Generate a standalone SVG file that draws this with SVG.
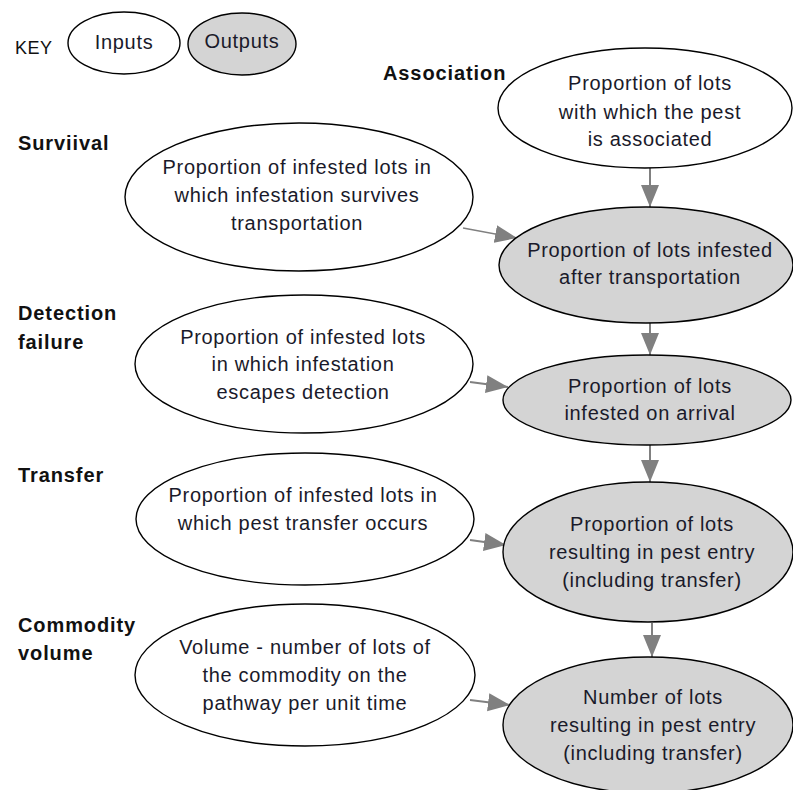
<svg xmlns="http://www.w3.org/2000/svg" width="793" height="790" viewBox="0 0 793 790">
<defs>
<marker id="ah" markerUnits="userSpaceOnUse" markerWidth="24" markerHeight="20" refX="22" refY="10" orient="auto">
<path d="M0,1 L22,10 L0,19 z" fill="#808080"/>
</marker>
<style>
.in{fill:#ffffff;stroke:#000;stroke-width:1.4}
.out{fill:#d4d4d4;stroke:#000;stroke-width:1.4}
.t{font-family:"Liberation Sans",Arial,sans-serif;font-size:20px;fill:#1a1a2a;text-anchor:middle;letter-spacing:0.7px}
.lb{font-family:"Liberation Sans",Arial,sans-serif;font-size:20px;font-weight:bold;fill:#111;letter-spacing:0.9px}
.c{stroke:#808080;stroke-width:2;fill:none;marker-end:url(#ah)}
</style>
</defs>
<rect width="793" height="790" fill="#fff"/>
<g id="key">
<text x="15" y="54" class="lb" style="font-weight:normal;font-size:18px;letter-spacing:0.5px">KEY</text>
<ellipse cx="124" cy="43" rx="56" ry="31" class="in"/>
<text x="124" y="49" class="t">Inputs</text>
<ellipse cx="242" cy="44" rx="54" ry="31" class="out"/>
<text x="242" y="48" class="t">Outputs</text>
</g>
<g id="labels">
<text x="383" y="80" class="lb">Association</text>
<text x="18" y="150" class="lb">Surviival</text>
<text x="18" y="320" class="lb">Detection</text>
<text x="18" y="349" class="lb">failure</text>
<text x="18" y="482" class="lb">Transfer</text>
<text x="18" y="632" class="lb">Commodity</text>
<text x="18" y="660" class="lb">volume</text>
</g>
<g id="connectors">
<line x1="650" y1="168" x2="650" y2="207" class="c"/>
<line x1="463" y1="228" x2="517" y2="238" class="c" style="stroke-width:1.5"/>
<line x1="650" y1="323" x2="650" y2="355" class="c"/>
<line x1="470" y1="382" x2="508" y2="387" class="c"/>
<line x1="650" y1="445" x2="650" y2="482" class="c"/>
<line x1="470" y1="540" x2="506" y2="545" class="c"/>
<line x1="652" y1="623" x2="652" y2="657" class="c"/>
<line x1="470" y1="700" x2="510" y2="705" class="c"/>
</g>
<g id="association">
<ellipse cx="645" cy="108" rx="147" ry="60" class="in"/>
<text class="t"><tspan x="650" y="90">Proportion of lots</tspan><tspan x="650" y="119">with which the pest</tspan><tspan x="650" y="146">is associated</tspan></text>
</g>
<g id="survival">
<ellipse cx="299" cy="197" rx="174" ry="74" class="in"/>
<text class="t"><tspan x="297" y="174">Proportion of infested lots in</tspan><tspan x="297" y="202">which infestation survives</tspan><tspan x="297" y="230">transportation</tspan></text>
</g>
<g id="infested-after-transport">
<ellipse cx="646" cy="265" rx="147" ry="58" class="out"/>
<text class="t"><tspan x="650" y="257">Proportion of lots infested</tspan><tspan x="650" y="284">after transportation</tspan></text>
</g>
<g id="detection">
<ellipse cx="304" cy="364" rx="169" ry="69" class="in"/>
<text class="t"><tspan x="303" y="344">Proportion of infested lots</tspan><tspan x="303" y="371">in which infestation</tspan><tspan x="303" y="399">escapes detection</tspan></text>
</g>
<g id="infested-on-arrival">
<ellipse cx="647" cy="400" rx="144" ry="45" class="out"/>
<text class="t"><tspan x="650" y="393">Proportion of lots</tspan><tspan x="650" y="420">infested on arrival</tspan></text>
</g>
<g id="transfer">
<ellipse cx="305" cy="519" rx="169" ry="66" class="in"/>
<text class="t"><tspan x="303" y="502">Proportion of infested lots in</tspan><tspan x="303" y="530">which pest transfer occurs</tspan></text>
</g>
<g id="pest-entry">
<ellipse cx="648" cy="552" rx="145" ry="70" class="out"/>
<text class="t"><tspan x="652" y="531">Proportion of lots</tspan><tspan x="652" y="559">resulting in pest entry</tspan><tspan x="652" y="587">(including transfer)</tspan></text>
</g>
<g id="commodity">
<ellipse cx="305" cy="675" rx="170" ry="71" class="in"/>
<text class="t"><tspan x="305" y="654">Volume - number of lots of</tspan><tspan x="305" y="682">the commodity on the</tspan><tspan x="305" y="710">pathway per unit time</tspan></text>
</g>
<g id="number-entry">
<ellipse cx="648" cy="725" rx="145" ry="68" class="out"/>
<text class="t"><tspan x="653" y="704">Number of lots</tspan><tspan x="653" y="732">resulting in pest entry</tspan><tspan x="653" y="760">(including transfer)</tspan></text>
</g>
</svg>
